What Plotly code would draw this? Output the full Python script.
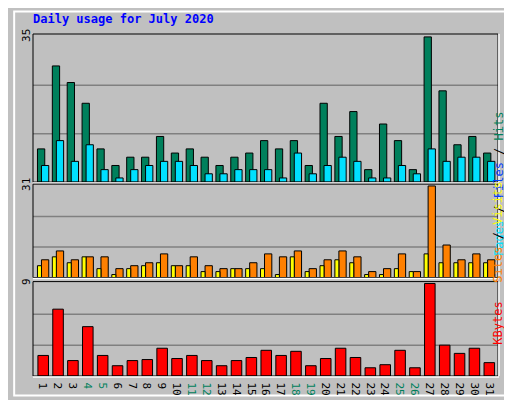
import plotly.graph_objects as go

days = list(range(1, 32))
weekend = [4, 5, 11, 12, 18, 19, 25, 26]
hits = [8, 28, 24, 19, 8, 4, 6, 6, 11, 7, 8, 6, 4, 6, 7, 10, 8, 10, 4, 19, 11, 17, 3, 14, 10, 3, 35, 22, 9, 11, 7]
pages = [4, 10, 5, 9, 3, 1, 3, 4, 5, 5, 4, 2, 2, 3, 3, 3, 1, 7, 2, 4, 6, 5, 1, 1, 4, 2, 8, 5, 6, 6, 5]
sites = [6, 9, 6, 7, 7, 3, 4, 5, 8, 4, 7, 4, 3, 3, 5, 8, 7, 9, 3, 6, 9, 7, 2, 3, 8, 2, 31, 11, 6, 8, 6]
visits = [4, 7, 5, 7, 3, 1, 3, 4, 5, 4, 4, 2, 2, 3, 3, 3, 1, 7, 2, 4, 6, 5, 1, 1, 3, 2, 8, 5, 5, 5, 5]
kbytes = [2.0, 6.5, 1.5, 4.8, 2.0, 1.0, 1.5, 1.6, 2.7, 1.7, 2.0, 1.5, 1.0, 1.5, 1.8, 2.5, 2.0, 2.4, 1.0, 1.7,
          2.7, 1.8, 0.8, 1.1, 2.5, 0.8, 9.0, 3.0, 2.2, 2.7, 1.3]

GREEN = '#00805c'
FONT = 'DejaVu Sans Mono'
line = dict(color='black', width=1)

fig = go.Figure()
fig.add_bar(x=days, y=hits, width=0.49, offset=-0.5, marker=dict(color=GREEN, line=line), yaxis='y')
fig.add_bar(x=days, y=pages, width=0.49, offset=-0.23, marker=dict(color='#00e0ff', line=line), yaxis='y')
fig.add_bar(x=days, y=sites, width=0.49, offset=-0.23, marker=dict(color='#ff8000', line=line), yaxis='y2')
fig.add_bar(x=days, y=visits, width=0.27, offset=-0.5, marker=dict(color='#ffff00', line=line), yaxis='y2')
fig.add_bar(x=days, y=kbytes, width=0.71, offset=-0.47, marker=dict(color='#ff0000', line=line), yaxis='y3')

ticktext = ['<span style="color:%s">%d</span>' % (GREEN if d in weekend else 'black', d) for d in days]

panels = [('y', max(hits), [0.567, 1.0], '35'), ('y2', max(sites), [0.288, 0.561], '31'),
          ('y3', max(kbytes), [0.0, 0.276], '9')]
shapes = []
layout_axes = {}
for i, (yref, top, dom, lab) in enumerate(panels):
    name = 'yaxis' if i == 0 else 'yaxis%d' % (i + 1)
    layout_axes[name] = dict(domain=dom, range=[0, top * 1.02], tickvals=[top], ticktext=[lab],
                             tickangle=-90, showgrid=False, zeroline=False, ticks='',
                             tickfont=dict(family=FONT, size=11, color='black'), fixedrange=True)
    for frac in (1 / 3, 2 / 3):
        shapes.append(dict(type='line', xref='x', yref=yref, x0=0.2, x1=31.47, y0=top * frac, y1=top * frac,
                           line=dict(color='#808080', width=1.5), layer='below'))
    # panel frame
    shapes.append(dict(type='rect', xref='paper', yref='paper', x0=0, x1=1, y0=dom[0], y1=dom[1],
                       line=dict(color='black', width=1)))
    shapes.append(dict(type='line', xref='paper', yref='paper', x0=1.002, x1=1.002, y0=dom[0], y1=dom[1],
                       line=dict(color='white', width=1.5)))
    shapes.append(dict(type='line', xref='paper', yref='paper', x0=0, x1=1.002, y0=dom[0] - 0.003,
                       y1=dom[0] - 0.003, line=dict(color='white', width=1.5)))

# outer bevel
shapes.append(dict(type='rect', xref='paper', yref='paper', x0=-19 / 469, x1=1 + 19 / 469,
                   y0=-20 / 351, y1=1 + 23 / 351, line=dict(color='white', width=2), layer='below'))

annotations = [
    dict(text='<b>Daily usage for July 2020</b>', xref='paper', yref='paper', x=-0.005, y=1.044,
         xanchor='left', yanchor='middle', showarrow=False, font=dict(family=FONT, size=12, color='#0000ff')),
    dict(text='<span style="color:#00e0ff">Pages</span> / <span style="color:#0040ff">Files</span> / '
              '<span style="color:%s">Hits</span>' % GREEN,
         xref='paper', yref='paper', x=1.02, y=0.78, textangle=-90, showarrow=False,
         font=dict(family=FONT, size=12, color='black')),
    dict(text='<span style="color:#ff8000">Sites</span> / <span style="color:#ffff00">Visits</span>',
         xref='paper', yref='paper', x=1.02, y=0.42, textangle=-90, showarrow=False,
         font=dict(family=FONT, size=12, color='black')),
    dict(text='<span style="color:#ff0000">KBytes</span>', xref='paper', yref='paper', x=1.02, y=0.085,
         textangle=-90, showarrow=False, font=dict(family=FONT, size=12)),
]

fig.update_layout(
    width=512, height=400, barmode='overlay', showlegend=False,
    paper_bgcolor='#c0c0c0', plot_bgcolor='#c0c0c0',
    margin=dict(l=21, r=22, t=26, b=23),
    xaxis=dict(anchor='y3', range=[0.2, 31.47], tickvals=days, ticktext=ticktext, showgrid=False,
               zeroline=False, ticks='', tickfont=dict(family=FONT, size=11), fixedrange=True),
    shapes=shapes, annotations=annotations, **layout_axes,
)

fig.write_html("out.html")
